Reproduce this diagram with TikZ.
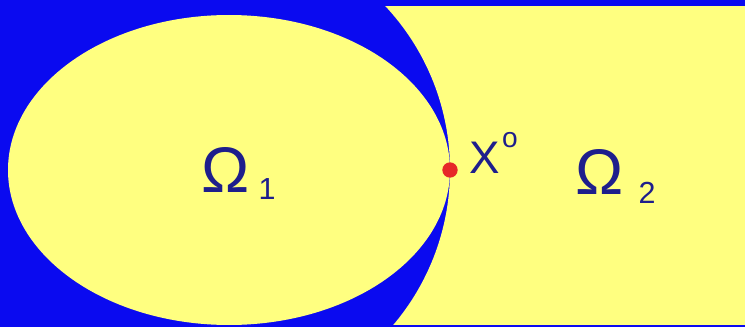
\documentclass[tikz,border=0pt]{standalone}
\usepackage{fontspec}
\setmainfont{Liberation Sans}
\usetikzlibrary{positioning}
\definecolor{OmBlue}{HTML}{0A0AF0}
\definecolor{OmYellow}{HTML}{FFFF80}
\definecolor{OmText}{HTML}{1E1E8C}
\definecolor{OmRed}{HTML}{E62828}

\begin{document}
\begin{tikzpicture}[x=0.03cm,y=0.03cm,
  omega/.style={text=OmText,inner sep=0pt,font=\fontsize{55}{55}\selectfont},
  pointlabel/.style={text=OmText,inner sep=0pt,font=\fontsize{39}{39}\selectfont},
  index/.style={text=OmText,inner sep=0pt,font=\fontsize{26}{26}\selectfont}]
  \fill[OmBlue] (0,0) rectangle (745,327);
  \useasboundingbox (0,0) rectangle (745,327);
  % the two regions
  \fill[OmYellow] (229,157) ellipse [x radius=221,y radius=155];
  \begin{scope}
    \clip (300,3) rectangle (760,320);
    \fill[OmYellow,even odd rule] (250,-60) rectangle (800,400) (210,157) circle [radius=240];
  \end{scope}
  % contact point
  \node[circle,fill=OmRed,inner sep=0pt,minimum size=4.6mm] (x0) at (450,157) {};
  \node[pointlabel] (xlabel) at (485,169) {X};
  \node[index,font=\fontsize{24}{24}\selectfont] (xsup) at (510,187) {o};
  % labels
  \node[omega] (om1) at (226,157) {Ω};
  \node[index] (sub1) at (267,138) {1};
  \node[omega] (om2) at (600,155) {Ω};
  \node[index] (sub2) at (647,134) {2};
\end{tikzpicture}
\end{document}
